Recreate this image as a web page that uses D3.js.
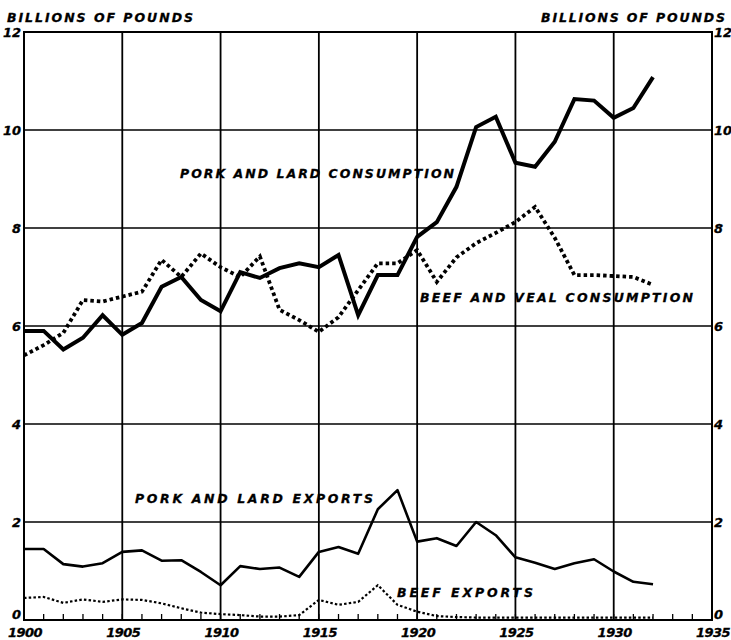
<!DOCTYPE html>
<html><head><meta charset="utf-8">
<script src="https://cdn.jsdelivr.net/npm/d3@7"></script>
<style>
body{margin:0;background:#fff;}
text{font-family:"DejaVu Sans",sans-serif;font-weight:bold;font-style:italic;fill:#000;stroke:#000;stroke-width:0.3;}
</style></head>
<body><svg id="c" width="731" height="640"></svg>
<script>
const years = d3.range(1900, 1933);
const porkLardConsumption = [5.9,5.9,5.52,5.76,6.22,5.82,6.06,6.8,7.0,6.53,6.3,7.1,6.98,7.18,7.28,7.2,7.45,6.22,7.04,7.04,7.82,8.12,8.84,10.06,10.27,9.33,9.25,9.76,10.63,10.6,10.25,10.45,11.08];
const beefVealConsumption = [5.4,5.61,5.86,6.53,6.5,6.6,6.7,7.35,7.0,7.48,7.2,7.0,7.42,6.33,6.12,5.88,6.18,6.73,7.28,7.28,7.55,6.9,7.4,7.69,7.9,8.12,8.43,7.8,7.04,7.04,7.02,7.0,6.84];
const porkLardExports = [1.45,1.45,1.14,1.09,1.16,1.39,1.42,1.21,1.22,0.98,0.71,1.1,1.04,1.07,0.88,1.39,1.49,1.35,2.26,2.65,1.6,1.67,1.51,2.0,1.73,1.28,1.17,1.04,1.16,1.24,0.99,0.78,0.73];
const beefExports = [0.45,0.47,0.35,0.42,0.37,0.42,0.41,0.34,0.24,0.15,0.12,0.1,0.07,0.07,0.1,0.41,0.31,0.37,0.71,0.31,0.17,0.08,0.06,0.05,0.05,0.05,0.05,0.05,0.05,0.05,0.05,0.05,0.05];
const xTicks = [1900,1905,1910,1915,1920,1925,1930,1935];
const yTicks = [0,2,4,6,8,10,12];
const axisTitle = "BILLIONS OF POUNDS";

const svg = d3.select("#c");
const x = d3.scaleLinear().domain([1900,1935]).range([24,712]);
const y = d3.scaleLinear().domain([0,12]).range([620,32]);

// gridlines
const g = svg.append("g");
g.selectAll(".hg").data(yTicks.filter(v=>v>0 && v<12)).join("line")
  .attr("x1",x(1900)).attr("x2",x(1935)).attr("y1",d=>y(d)).attr("y2",d=>y(d))
  .attr("stroke","#000").attr("stroke-width",1.4);
g.selectAll(".vg").data(xTicks.filter(v=>v>1900 && v<1935)).join("line")
  .attr("x1",d=>x(d)).attr("x2",d=>x(d)).attr("y1",y(0)).attr("y2",y(12))
  .attr("stroke","#000").attr("stroke-width",1.8);
// frame
g.append("rect").attr("x",x(1900)).attr("y",y(12)).attr("width",x(1935)-x(1900)).attr("height",y(0)-y(12))
  .attr("fill","none").attr("stroke","#000").attr("stroke-width",2);
// minor yearly ticks
g.selectAll(".mt").data(d3.range(1901,1935)).join("line")
  .attr("x1",d=>x(d)).attr("x2",d=>x(d)).attr("y1",y(0)).attr("y2",y(0)-6)
  .attr("stroke","#000").attr("stroke-width",1.3);

// axes labels
svg.selectAll(".yl").data(yTicks).join("text")
  .attr("x",x(1900)-3).attr("y",d=>y(d)+ (d===0?-1:5)).attr("text-anchor","end")
  .attr("font-size",13).text(d=>d);
svg.selectAll(".yr").data(yTicks).join("text")
  .attr("x",x(1935)+2).attr("y",d=>y(d)+(d===0?-1:5)).attr("text-anchor","start")
  .attr("font-size",13).text(d=>d);
svg.selectAll(".xl").data(xTicks).join("text")
  .attr("x",d=>x(d)+1).attr("y",637).attr("text-anchor","middle")
  .attr("font-size",13).attr("letter-spacing",-0.5).text(d=>d);

svg.append("text").attr("x",7).attr("y",22).attr("font-size",12.5)
  .attr("textLength",186).attr("lengthAdjust","spacing").text(axisTitle);
svg.append("text").attr("x",541).attr("y",22).attr("font-size",12.5)
  .attr("textLength",184).attr("lengthAdjust","spacing").text(axisTitle);

// lines
const line = arr => d3.line().x((d,i)=>x(years[i])).y(d=>y(d))(arr);
svg.append("path").attr("d",line(beefExports)).attr("fill","none").attr("stroke","#000")
  .attr("stroke-width",2.2).attr("stroke-dasharray","2.5,2.2");
svg.append("path").attr("d",line(porkLardExports)).attr("fill","none").attr("stroke","#000")
  .attr("stroke-width",2.6).attr("stroke-linejoin","round");
svg.append("path").attr("d",line(beefVealConsumption)).attr("fill","none").attr("stroke","#000")
  .attr("stroke-width",3.8).attr("stroke-dasharray","3.5,3");
svg.append("path").attr("d",line(porkLardConsumption)).attr("fill","none").attr("stroke","#000")
  .attr("stroke-width",4).attr("stroke-linejoin","miter");

// series labels
const labels = [
  {t:"PORK AND LARD CONSUMPTION", x:180, y:178, w:274},
  {t:"BEEF AND VEAL CONSUMPTION", x:420, y:302, w:273},
  {t:"PORK AND LARD EXPORTS", x:135, y:503, w:238},
  {t:"BEEF EXPORTS", x:397, y:597, w:136}
];
svg.selectAll(".sl").data(labels).join("text")
  .attr("x",d=>d.x).attr("y",d=>d.y).attr("font-size",12.5)
  .attr("textLength",d=>d.w).attr("lengthAdjust","spacing").text(d=>d.t);
</script></body></html>
